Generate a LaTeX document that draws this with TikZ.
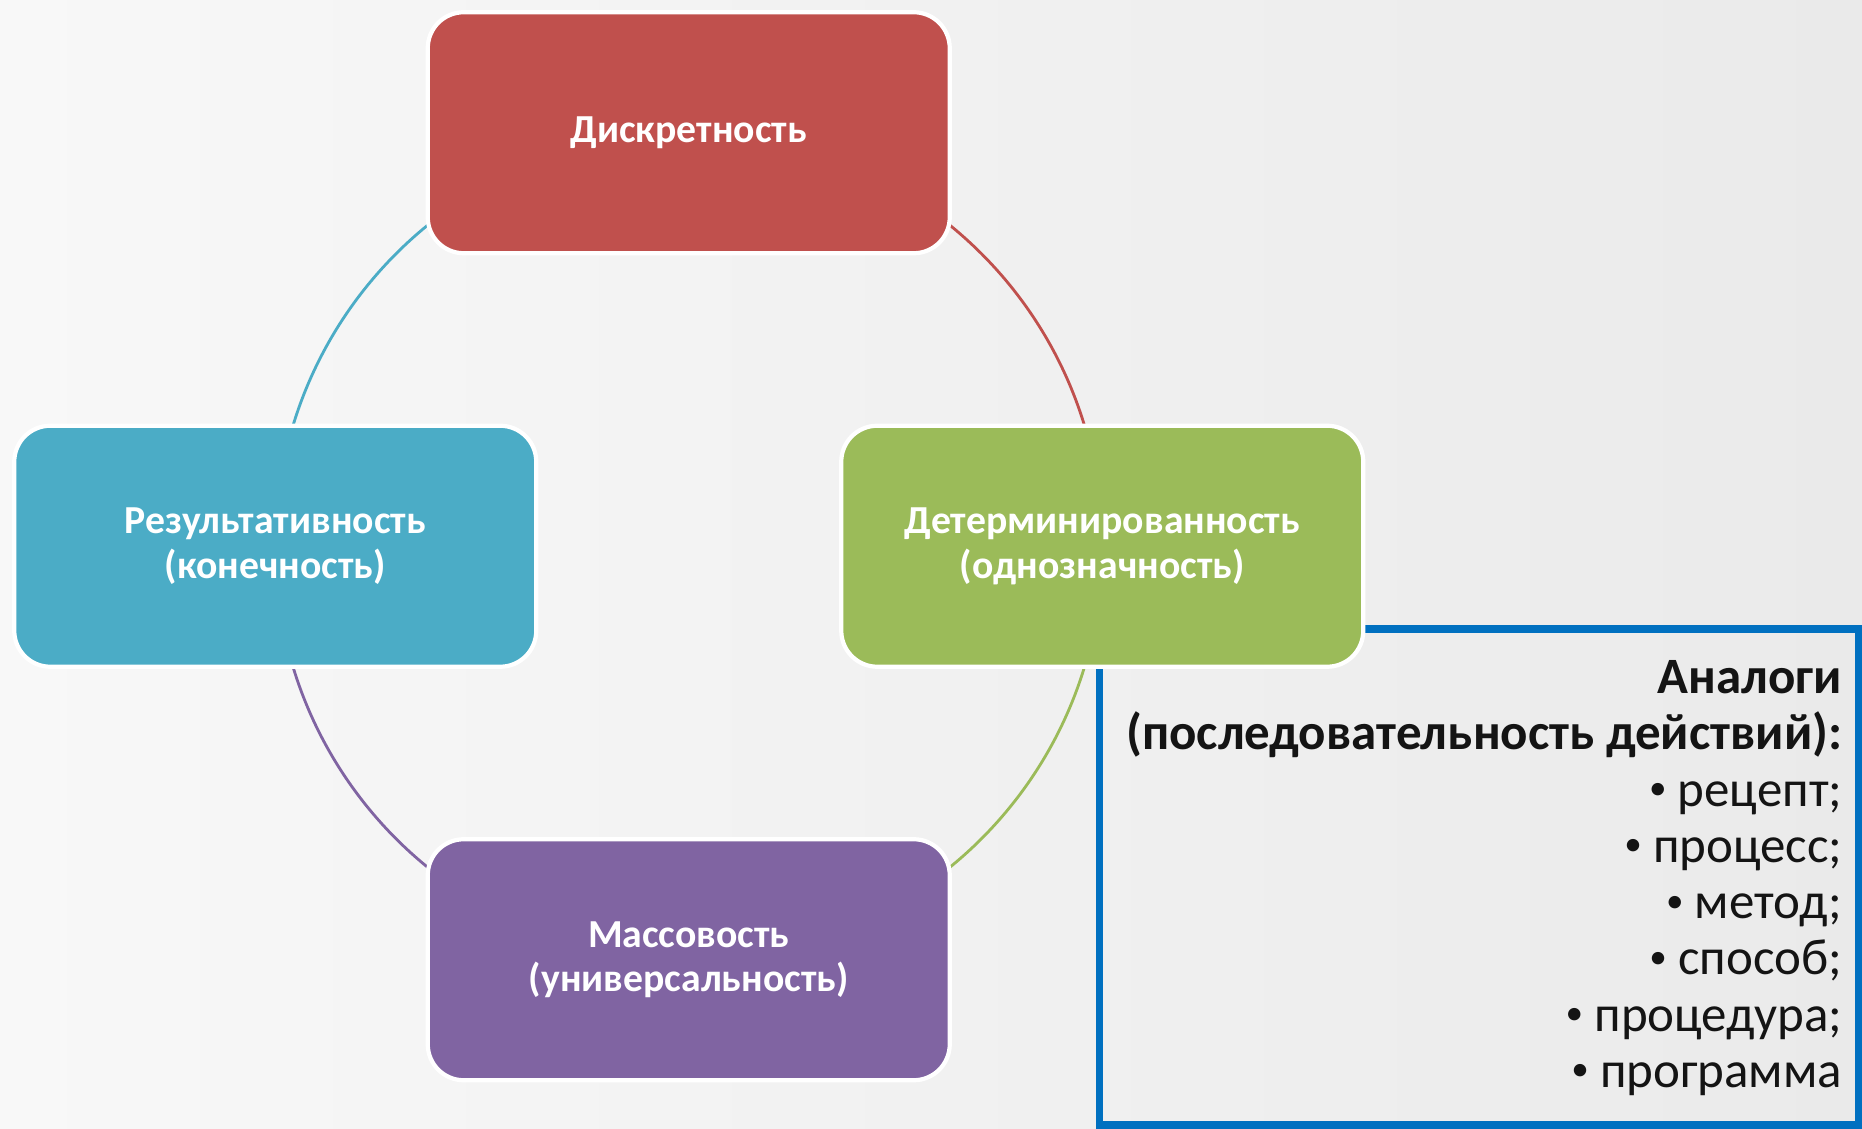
\documentclass[tikz,border=0pt]{standalone}
\usepackage{fontspec}
\setmainfont{Carlito}
\usetikzlibrary{backgrounds}

\definecolor{discred}{RGB}{192,80,77}
\definecolor{detgreen}{RGB}{155,187,89}
\definecolor{masspurple}{RGB}{128,100,162}
\definecolor{resblue}{RGB}{75,172,198}
\definecolor{framblue}{RGB}{0,112,192}
\definecolor{bgleft}{RGB}{248,248,248}
\definecolor{bgright}{RGB}{234,234,234}
\definecolor{analogtext}{RGB}{20,20,20}

\newcommand{\smallbul}{\raisebox{0.13em}{\fontsize{10}{10}\selectfont•}\hspace{0.22em}}

\begin{document}
\begin{tikzpicture}[
    propbox/.style={rectangle, rounded corners=0.36cm, draw=white, line width=1.2pt,
        minimum width=5.22cm, minimum height=2.41cm, text=white, align=center,
        font=\bfseries\fontsize{11.3}{12.8}\selectfont},
    arcline/.style={line width=0.8pt},
    analog/.style={anchor=base east, inner sep=0pt, text=analogtext,
        font=\fontsize{14.5}{16}\selectfont}
]
    \useasboundingbox (0,0) rectangle (18.62,11.29);

    % frame with the analogues
    \draw[framblue, line width=2pt] (10.99,0.04) rectangle (18.58,5.0);
    \node[analog] (head1) at (18.43,4.355) {\textbf{Аналоги}};
    \node[analog] (head2) at (18.43,3.792) {\textbf{(последовательность действий):}};
    \foreach \txt [count=\i from 2] in {рецепт;, процесс;, метод;, способ;, процедура;, программа}
    \node[analog] (item\i) at (18.43,4.355-0.563*\i) {\smallbul\txt};

    % the four properties
    \node[propbox, fill=discred] (disc) at (6.8875,9.9625) {Дискретность};
    \node[propbox, fill=detgreen] (det) at (11.0225,5.8275) {Детерминированность\\(однозначность)};
    \node[propbox, fill=masspurple] (mass) at (6.8875,1.6925) {Массовость\\(универсальность)};
    \node[propbox, fill=resblue] (res) at (2.7525,5.8275) {Результативность\\(конечность)};

    \begin{pgfonlayer}{background}
    \shade[left color=bgleft, right color=bgright] (0,0) rectangle (18.62,11.29);
    \draw[arcline, discred] (disc.center) to[bend left=45] (det.center);
    \draw[arcline, detgreen] (det.center) to[bend left=45] (mass.center);
    \draw[arcline, masspurple] (mass.center) to[bend left=45] (res.center);
    \draw[arcline, resblue] (res.center) to[bend left=45] (disc.center);
    \end{pgfonlayer}
\end{tikzpicture}
\end{document}
